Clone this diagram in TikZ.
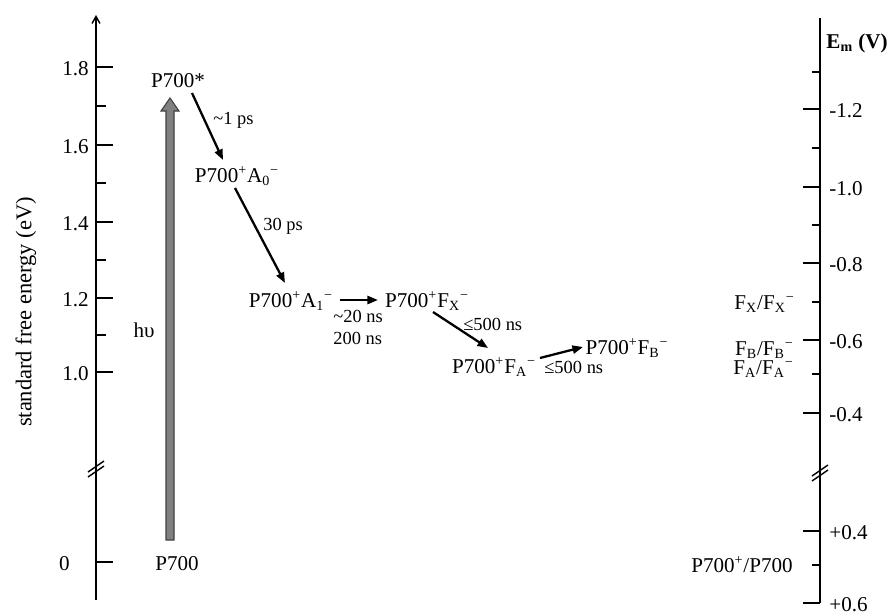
\documentclass[tikz,border=0pt]{standalone}
\usepackage{fontspec}
\setmainfont{Liberation Serif}
\usetikzlibrary{arrows.meta}

\newcommand{\pplus}{P700\textsuperscript{+}}
\newcommand{\redx}[2]{#1\textsubscript{#2}\textsuperscript{−}}

\tikzset{
  state/.style={inner sep=0pt, anchor=base, font=\fontsize{12}{14}\selectfont},
  rate/.style={inner sep=0pt, anchor=base west, font=\fontsize{10.5}{12}\selectfont},
  transfer/.style={->, line width=1.3pt},
  axis/.style={line width=0.8pt},
  photon/.style={fill=black!50, draw=black!75, line width=0.6pt, line join=miter},
}

\begin{document}
\begin{tikzpicture}[x=0.02cm, y=-0.02cm, >={Triangle[length=6pt,width=4.6pt]}]
\useasboundingbox (0,0) rectangle (893,613);

% energy scale
\draw[axis, -{Straight Barb[length=4pt,width=4.5pt]}] (96,600) -- (96,15);
\foreach \y/\t in {67/1.8,145/1.6,222/1.4,298/1.2,372/1.0}{
  \draw[axis] (96,\y) -- (113,\y);
  \node[state, anchor=base east] (el\y) at (89,\y+8) {\t};
}
\foreach \y in {106,183,260,335}
  \draw[axis] (96,\y) -- (106,\y);
\draw[axis] (96,562) -- (113,562);
\node[state, anchor=base east] (el0) at (70,570) {0};
\draw[axis] (88,472) -- (104,461);
\draw[axis] (88,477) -- (104,466);
\node[rotate=90, font=\fontsize{12.8}{14}\selectfont] (ylab) at (26,312) {standard free energy (eV)};

% potential scale
\draw[axis] (820,18) -- (820,603);
\foreach \y/\t in {109/-1.2,187/-1.0,263/-0.8,340/-0.6,413/-0.4,531/+0.4,603/+0.6}{
  \draw[axis] (803,\y) -- (820,\y);
  \node[state, anchor=base west] (em\y) at (829,\y+8) {\t};
}
\foreach \y in {72,148,225,302,374,565}
  \draw[axis] (812,\y) -- (820,\y);
\draw[axis] (812,476) -- (828,465);
\draw[axis] (812,481) -- (828,470);
\node[state, anchor=base east] (emlab) at (888,48) {\textbf{E\textsubscript{m} (V)}};

% couples
\node[state, anchor=base east] (cpx) at (795,309) {F\textsubscript{X}/\redx{F}{X}};
\node[state, anchor=base east] (cpb) at (794,355) {F\textsubscript{B}/\redx{F}{B}};
\node[state, anchor=base east] (cpa) at (794,374) {F\textsubscript{A}/\redx{F}{A}};
\node[state, anchor=base east] (cpp) at (793,572) {\pplus/P700};

% states
\node[state] (P700) at (177,570) {P700};
\node[state] (P700s) at (178,87) {P700*};
\node[state] (A0) at (237,182) {\pplus\redx{A}{0}};
\node[state] (A1) at (291,307) {\pplus\redx{A}{1}};
\node[state] (FX) at (427,307) {\pplus\redx{F}{X}};
\node[state] (FA) at (494,373) {\pplus\redx{F}{A}};
\node[state] (FB) at (627,354) {\pplus\redx{F}{B}};

% excitation
\coordinate (hvtail) at (170,540);
\coordinate (hvtip) at (170,98);
\draw[photon] ([shift={(-4,0)}]hvtail) -- ([shift={(-4,13)}]hvtip) -- ([shift={(-9,13)}]hvtip)
  -- (hvtip) -- ([shift={(9,13)}]hvtip) -- ([shift={(4,13)}]hvtip) -- ([shift={(4,0)}]hvtail) -- cycle;
\node[state] (hv) at (144,337) {hυ};

% electron transfer
\path[transfer] ([shift={(14,6)}]P700s.base) edge ([shift={(-14,-22)}]A0.base);
\path[transfer] ([shift={(-2,6)}]A0.base) edge ([shift={(-6,-24)}]A1.base);
\path[transfer] ([shift={(49,-7)}]A1.base) edge ([shift={(-49,-7)}]FX.base);
\path[transfer] ([shift={(6,5)}]FX.base) edge ([shift={(-6,-25)}]FA.base);
\path[transfer] ([shift={(46,-15)}]FA.base) edge ([shift={(-44,-7)}]FB.base);

\node[rate] (r1) at (213,124) {\textasciitilde1 ps};
\node[rate] (r2) at (263,230) {30 ps};
\node[rate] (r3) at (333,322) {\textasciitilde20 ns};
\node[rate] (r4) at (333,344) {200 ns};
\node[rate] (r5) at (463,330) {≤500 ns};
\node[rate] (r6) at (544,373) {≤500 ns};
\end{tikzpicture}
\end{document}
